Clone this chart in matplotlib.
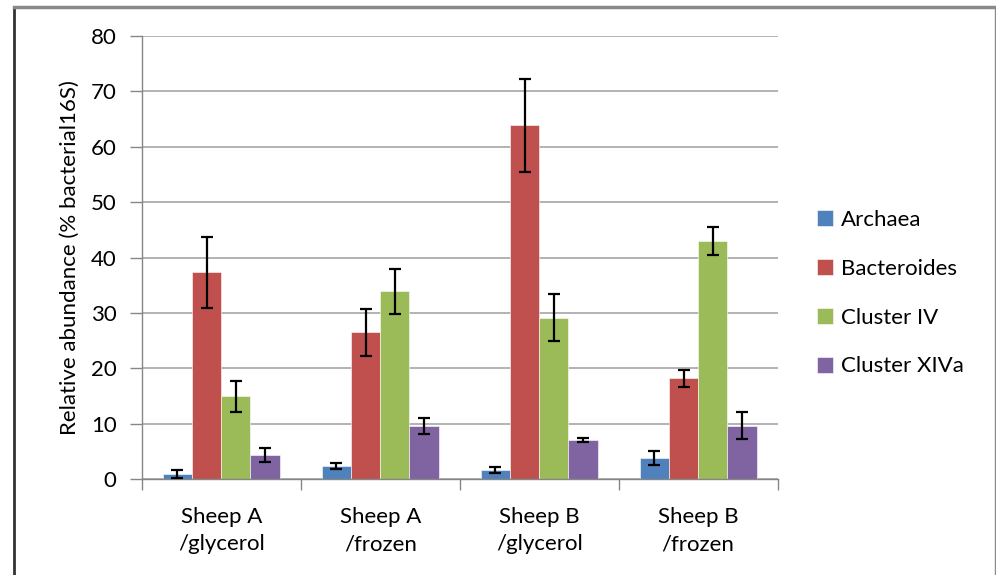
import numpy as np
import matplotlib
matplotlib.use("Agg")
import matplotlib.pyplot as plt
from matplotlib.lines import Line2D

plt.rcParams['font.family'] = ['Lato', 'DejaVu Sans']

categories = ["Sheep A\n/glycerol", "Sheep A\n/frozen", "Sheep B\n/glycerol", "Sheep B\n/frozen"]
series_names = ["Archaea", "Bacteroides", "Cluster IV", "Cluster XIVa"]
colors = ["#4F81BD", "#C0504D", "#9BBB59", "#8064A2"]

archaea = [0.95, 2.4, 1.7, 3.9]
bacteroides = [37.35, 26.55, 63.85, 18.2]
cluster_iv = [14.95, 33.9, 29.2, 42.95]
cluster_xiva = [4.35, 9.6, 7.1, 9.7]

archaea_err = [0.65, 0.5, 0.5, 1.3]
bacteroides_err = [6.4, 4.25, 8.35, 1.6]
cluster_iv_err = [2.75, 4.1, 4.3, 2.55]
cluster_xiva_err = [1.25, 1.5, 0.4, 2.5]

values = [archaea, bacteroides, cluster_iv, cluster_xiva]
errors = [archaea_err, bacteroides_err, cluster_iv_err, cluster_xiva_err]

fig = plt.figure(figsize=(9.96, 5.75), dpi=100)
ax = fig.add_axes([0.1423, 0.1664, 0.7808 - 0.1423, 0.9374 - 0.1664])

x = np.arange(len(categories))
width = 0.184
for i, (vals, errs) in enumerate(zip(values, errors)):
    pos = x + (i - 1.5) * width
    ax.bar(pos, vals, width, color=colors[i], label=series_names[i],
           edgecolor="white", linewidth=0.4, zorder=2)
    ax.errorbar(pos, vals, yerr=errs, fmt="none", ecolor="black",
                elinewidth=1.6, capsize=4.2, capthick=1.6, zorder=3)

ax.set_xlim(-0.5, 3.5)
ax.set_ylim(0, 80)
ax.set_yticks(np.arange(0, 81, 10))
ax.yaxis.grid(True, color="#a6a6a6", linewidth=1.2, zorder=0)
ax.set_axisbelow(True)

ax.set_xticks(x)
ax.set_xticklabels(categories, fontsize=16, linespacing=1.45)
ax.set_xticks(np.arange(-0.5, 4, 1), minor=True)
ax.tick_params(axis="x", which="major", length=0, pad=20)
ax.tick_params(axis="x", which="minor", length=8, width=1, color="#868686", direction="out")
ax.tick_params(axis="y", length=9, width=1, color="#868686", labelsize=16, pad=9)

for s in ["top", "right"]:
    ax.spines[s].set_visible(False)
for s in ["left", "bottom"]:
    ax.spines[s].set_color("#868686")
    ax.spines[s].set_linewidth(1)

ax.set_ylabel("Relative abundance (% bacterial16S)", fontsize=16, labelpad=8)

ax.legend(loc="center left", bbox_to_anchor=(1.03, 0.42), frameon=False, fontsize=16,
          handlelength=0.75, handleheight=0.75, handletextpad=0.35, labelspacing=1.3)

# outer frame of the picture
fig.add_artist(Line2D([14 / 996, 14 / 996], [0, 1 - 7 / 575], transform=fig.transFigure,
                      color="#333333", linewidth=2))
fig.add_artist(Line2D([14 / 996, 995 / 996], [1 - 7 / 575, 1 - 7 / 575], transform=fig.transFigure,
                      color="#8a8a8a", linewidth=2.5))
fig.add_artist(Line2D([995 / 996, 995 / 996], [0, 1 - 7 / 575], transform=fig.transFigure,
                      color="#8a8a8a", linewidth=1))

fig.savefig("out.png", dpi=100)
